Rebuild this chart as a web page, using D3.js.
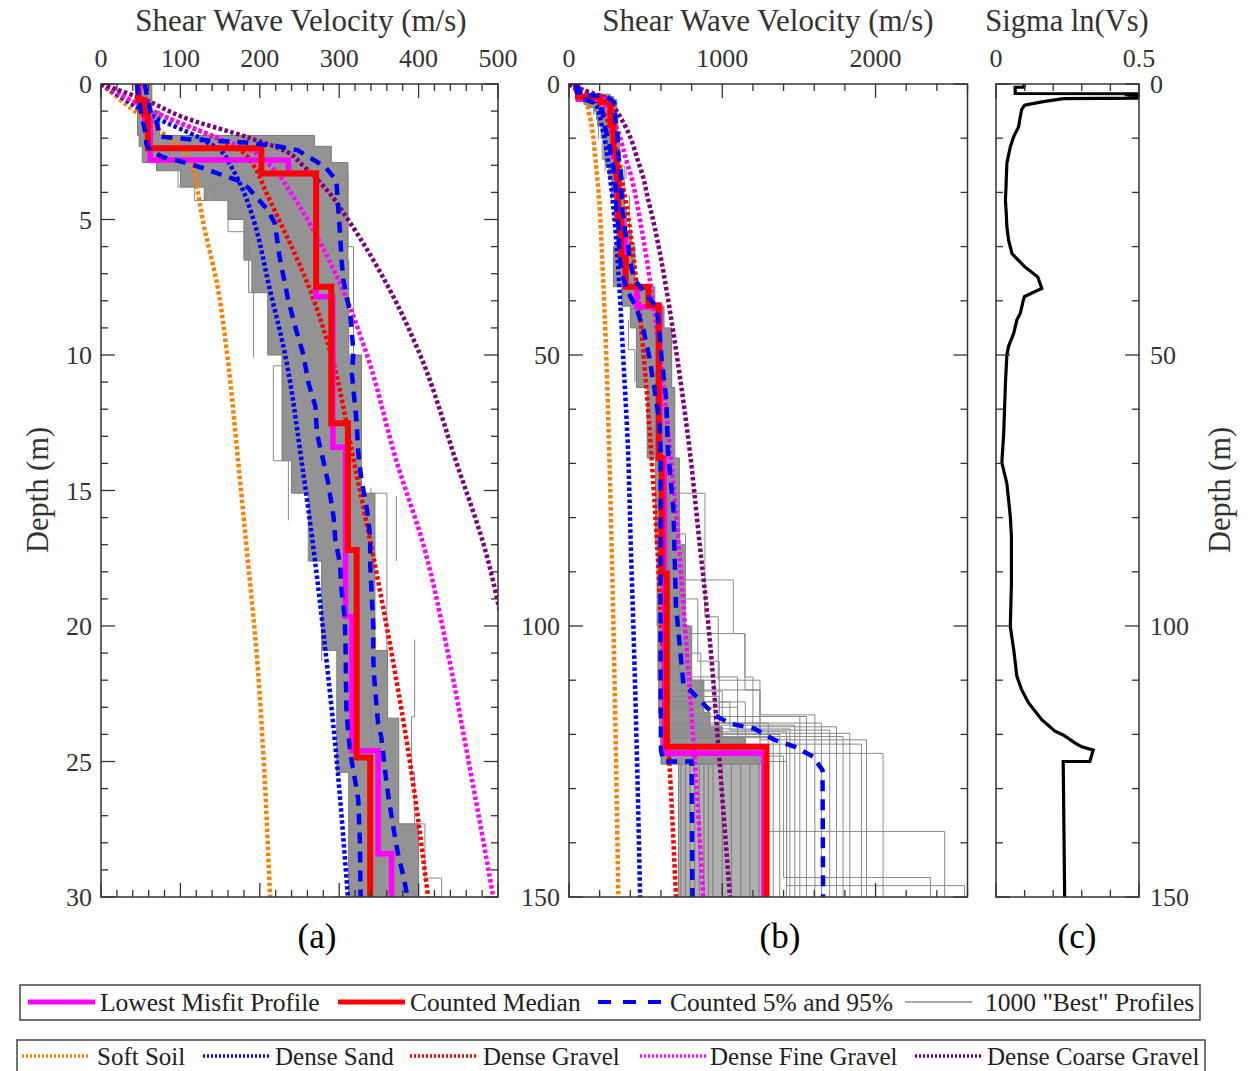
<!DOCTYPE html>
<html><head><meta charset="utf-8">
<script src="https://cdn.jsdelivr.net/npm/d3@7"></script>
<style>
body{margin:0;background:#fff}
svg{display:block}
text{font-family:"Liberation Serif","Times New Roman",serif}
</style></head>
<body><svg id="chart" width="1248" height="1071"></svg>
<script>
// ---------------- DATA ----------------
// generic (reference) Vs profiles: depth (m) and Vs (m/s)
const genDepth     = [0, 0.6, 1.2, 2, 2.5, 3, 4, 5, 7.5, 10, 14, 17, 21, 25, 30, 40, 50, 67.5, 85, 100, 125, 150];
const softSoil     = [0, 25, 51, 86, 106, 115, 122, 128, 147, 159, 173, 183, 196, 205, 213, 229, 243, 262, 278, 290, 307, 322];
const denseSand    = [0, 32, 66, 125, 152, 163, 180, 192, 212, 232, 253, 267, 283, 297, 311, 334, 353, 385, 403, 420, 444, 464];
const denseGravel  = [0, 37, 80, 146, 178, 192, 208, 224, 262, 290, 319, 340, 366, 389, 412, 453, 487, 535, 575, 602, 655, 698];
const fineGravel   = [0, 38, 80, 148, 192, 213, 239, 260, 303, 335, 373, 406, 437, 463, 494, 547, 593, 659, 716, 757, 821, 876];
const coarseGravel = [0, 57, 101, 188, 234, 254, 287, 311, 362, 402, 448, 482, 514, 548, 585, 648, 703, 787, 853, 910, 982, 1050];

// counted median (layer tops and Vs)
const medianTop = [0, 0.6, 1.1, 2.37, 3.3, 7.48, 12.52, 17.2, 24.85, 32, 37.4, 40.8, 69, 90.3, 122.3];
const medianVs  = [47, 54, 59, 202, 271, 290, 311, 322, 339, 370, 518, 585, 605, 638, 1289];
// lowest misfit profile
const lowestTop = [0, 0.6, 1.3, 2.8, 3.3, 7.85, 13.4, 19.65, 24.6, 28.4, 37.4, 41.1, 69, 123.5];
const lowestVs  = [48, 55, 62, 236, 271, 292, 308, 316, 349, 366, 442, 592, 622, 1272];

// counted 5% and 95% curves
const p05Depth = [0, 1, 1.8, 2.2, 2.45, 2.7, 2.85, 3.1, 3.35, 3.6, 3.85, 4.65, 5.15, 6.4, 8, 9.1, 10, 11, 11.9, 12.9, 13.9, 14.7, 16, 16.8, 17.7, 18.7, 19.7, 20.8, 23, 23.8, 24.7, 25.7, 26.4, 27.9, 30, 34.3, 38, 41.1, 45.4, 50.6, 56.1, 62.3, 68, 86, 104.4, 122.9, 125, 125, 150];
const p05Vs    = [45, 50, 56, 57, 62, 78, 100, 128, 152, 176, 186, 210, 219, 225, 236, 246, 255, 261, 270, 272, 280, 286, 293, 295, 301, 303, 307, 308, 309, 311, 314, 320, 324, 326, 327, 340, 377, 438, 486, 525, 557, 590, 598, 598, 598, 600, 616, 800, 805];
const p95Depth = [0, 0.3, 1, 1.4, 1.94, 2.04, 2.16, 2.3, 2.45, 2.68, 3.05, 3.54, 3.8, 4.65, 5.5, 6.5, 7.2, 8.5, 9.9, 10.7, 12.5, 13.6, 14.6, 15.7, 16.7, 17.7, 18.9, 20, 21.25, 21.9, 23.6, 24.1, 25.4, 26.3, 27.4, 28.4, 29.25, 30, 33, 36, 39, 41, 43.5, 50.9, 58.3, 67.5, 78.3, 96.4, 110.6, 113.7, 116.4, 118.1, 118.9, 120.9, 122.3, 124.1, 126.6, 150];
const p95Vs    = [55, 57, 62, 70, 74, 111, 183, 223, 248, 261, 282, 296, 297, 299, 301, 303, 305, 314, 318, 316, 322, 324, 328, 335, 339, 339, 341, 343, 343, 344, 349, 353, 358, 362, 368, 374, 381, 386, 400, 425, 510, 565, 583, 605, 635, 645, 681, 698, 746, 855, 946, 1061, 1207, 1333, 1474, 1593, 1654, 1658];

// dense part of the 1000 "best" profiles (left / right edge per layer)
const coreTop = [0, 1.0, 1.9, 2.3, 2.9, 3.2, 3.8, 4.3, 5.0, 6.5, 7.7, 10.0, 13.9, 15.1, 17.6, 20.9, 23.4, 25.4, 27.3, 30, 37.4, 41, 45, 56, 69, 85, 100, 110, 116, 118.6, 120.5, 122.3];
const coreLo  = [44, 46, 48, 52, 70, 100, 130, 160, 180, 190, 210, 228, 240, 262, 278, 297, 297, 312, 312, 290, 345, 400, 440, 510, 565, 575, 580, 585, 590, 595, 598, 600];
const coreHi  = [64, 74, 269, 290, 311, 311, 311, 311, 311, 312, 312, 328, 328, 345, 345, 361, 375, 375, 400, 430, 560, 620, 670, 690, 720, 760, 800, 880, 920, 1000, 1150, 1290];
const coreBottom = 125.5;
// half-space band of the best profiles
const halfBandTop = 125.5, halfBandLo = 714, halfBandHi = 1290;
const halfBandLines = [730, 760, 790, 820, 850, 880, 910, 940, 1000, 1060, 1120, 1180, 1240, 1270];

// individual outlying profiles (layer tops, Vs, bottom)
const grayFragments = [
  {t:[2.8, 3.8], v:[97, 143], b:4.3},
  {t:[3.05, 4.3, 5.45], v:[118, 160, 186], b:7.7},
  {t:[6.0, 7.7], v:[186, 192], b:10.1},
  {t:[9.8, 10.4, 13.9], v:[228, 217, 236], b:16.1},
  {t:[14.9, 17.6], v:[261, 278], b:21.3},
  {t:[5.0, 6.0], v:[305, 318], b:10.1},
  {t:[3.2], v:[311], b:6.0},
  {t:[14.9, 15.1], v:[340, 360], b:20.9},
  {t:[15.2], v:[372], b:17.6},
  {t:[20.5, 23.35], v:[395, 391], b:25.4},
  {t:[22, 25.4], v:[340, 370], b:29},
  {t:[25.4, 27.3, 29.3], v:[395, 408, 429], b:30.5},
  {t:[43.5, 49], v:[388, 430], b:55}
];
const deepProfiles = [
  {t:[60, 75.5, 98.3, 110, 121], v:[620, 887, 974, 1246, 1941]},
  {t:[60, 91.5, 101.4, 111.8, 116.4], v:[630, 1072, 1148, 1246, 1604]},
  {t:[60, 83, 101.4, 109.4, 118.6], v:[610, 760, 1148, 1200, 1745]},
  {t:[60, 95, 106.5, 119.8], v:[640, 840, 980, 1832]},
  {t:[60, 100, 111.8, 123.5], v:[630, 800, 1246, 2049]},
  {t:[60, 90, 109.4, 125, 137.9], v:[620, 720, 1100, 1289, 2451]},
  {t:[60, 105, 114, 124, 146.4], v:[640, 860, 1150, 1400, 2358]},
  {t:[60, 110, 117.9, 125, 147.9], v:[650, 950, 1300, 1420, 2581]},
  {t:[70, 112, 116.7], v:[660, 1000, 1549]},
  {t:[70, 114, 119.2], v:[650, 1050, 1701]},
  {t:[70, 113, 120.4], v:[640, 980, 1788]},
  {t:[70, 115, 121.8], v:[660, 1100, 1908]},
  {t:[70, 117.9], v:[650, 1647]},
  {t:[70, 116.7], v:[640, 1506]},
  {t:[70, 118.3], v:[650, 1473]},
  {t:[70, 119], v:[640, 1441]},
  {t:[70, 119.5], v:[640, 1419]},
  {t:[70, 120], v:[650, 1375]},
  {t:[70, 120.6], v:[640, 1332]}
];
const profileBottom = 150;

// sigma ln(Vs)
const sigmaDepth = [0, 0.6, 0.6, 1.75, 1.8, 1.95, 2.05, 2.2, 2.35, 2.5, 2.6, 2.7, 3.3, 3.9, 4.7, 6, 7.9, 9.7, 11.6, 14.6, 19, 21.4, 24, 26.3, 28.8, 31.3, 33.7, 35.6, 37.7, 39.2, 39.8, 42.3, 43.5, 46, 48.4, 50, 55.2, 64.4, 69.4, 70, 73.7, 79.8, 83.5, 92.1, 100.1, 104.4, 109.3, 111.8, 114.2, 117.3, 119.4, 120.1, 121.6, 122.3, 122.9, 125, 125, 150];
const sigmaVal   = [0.098, 0.098, 0.067, 0.067, 0.52, 0.45, 0.52, 0.46, 0.52, 0.47, 0.52, 0.235, 0.16, 0.1, 0.09, 0.085, 0.079, 0.062, 0.05, 0.038, 0.035, 0.033, 0.036, 0.038, 0.044, 0.056, 0.1, 0.146, 0.16, 0.1, 0.096, 0.085, 0.073, 0.062, 0.044, 0.038, 0.033, 0.027, 0.021, 0.021, 0.038, 0.05, 0.054, 0.054, 0.05, 0.062, 0.073, 0.09, 0.114, 0.16, 0.206, 0.235, 0.277, 0.3, 0.34, 0.328, 0.235, 0.24];

// tick labels
const aXLabels = [0, 100, 200, 300, 400, 500];
const aYLabels = [0, 5, 10, 15, 20, 25, 30];
const bXLabels = [0, 1000, 2000];
const bYLabels = [0, 50, 100, 150];
const cXLabels = [0, 0.5];
const cYLabels = [0, 50, 100, 150];

// legend entries
const legend1 = ["Lowest Misfit Profile", "Counted Median", "Counted 5% and 95%", "1000 \"Best\" Profiles"];
const legend2 = ["Soft Soil", "Dense Sand", "Dense Gravel", "Dense Fine Gravel", "Dense Coarse Gravel"];

// ---------------- DRAWING ----------------
const svg = d3.select("#chart");
const defs = svg.append("defs");
const TXT = "#333";
const genericStyles = [
  {data: softSoil, color: "#ff8000"},
  {data: denseSand, color: "#0000ff"},
  {data: denseGravel, color: "#ff0000"},
  {data: fineGravel, color: "#ff00ff"},
  {data: coarseGravel, color: "#7f007f"}
];

const panels = {
  a: {x: d3.scaleLinear().domain([0, 500]).range([101, 498]),
      y: d3.scaleLinear().domain([0, 30]).range([84, 897]),
      xMinor: 20, xMajor: 100, yMinor: 1, yMajor: 5},
  b: {x: d3.scaleLinear().domain([0, 2600]).range([569, 967.5]),
      y: d3.scaleLinear().domain([0, 150]).range([84, 897]),
      xMinor: 200, xMajor: 1000, yMinor: 10, yMajor: 50},
  c: {x: d3.scaleLinear().domain([0, 0.5]).range([996, 1139]),
      y: d3.scaleLinear().domain([0, 150]).range([84, 897]),
      xMinor: 0.1, xMajor: 0.5, yMinor: 10, yMajor: 50}
};

function stepPts(tops, vals, bottom) {
  const pts = [];
  tops.forEach((t, i) => {
    const b = i < tops.length - 1 ? tops[i + 1] : bottom;
    pts.push([vals[i], t]);
    pts.push([vals[i], b]);
  });
  return pts;
}

function setupClip(key) {
  const P = panels[key];
  defs.append("clipPath").attr("id", "clip-" + key)
    .append("rect")
    .attr("x", P.x.range()[0]).attr("y", P.y.range()[0])
    .attr("width", P.x.range()[1] - P.x.range()[0])
    .attr("height", P.y.range()[1] - P.y.range()[0]);
}

function drawVs(key) {
  const P = panels[key];
  setupClip(key);
  const g = svg.append("g").attr("clip-path", "url(#clip-" + key + ")");
  const line = d3.line().x(p => P.x(p[0])).y(p => P.y(p[1]));

  // dense core of gray profiles
  const left = stepPts(coreTop, coreLo, coreBottom);
  const right = stepPts(coreTop, coreHi, coreBottom).reverse();
  g.append("path").attr("d", line(left.concat(right)) + "Z")
    .attr("fill", "#939393").attr("stroke", "#7a7a7a").attr("stroke-width", 1);
  // half-space band
  const hb = [[halfBandLo, halfBandTop], [halfBandHi, halfBandTop], [halfBandHi, profileBottom], [halfBandLo, profileBottom]];
  g.append("path").attr("d", line(hb) + "Z").attr("fill", "#b0b0b0").attr("stroke", "#808080");
  halfBandLines.forEach(v => {
    g.append("path").attr("d", line([[v, halfBandTop], [v, profileBottom]]))
      .attr("fill", "none").attr("stroke", "#848484").attr("stroke-width", 1.2);
  });
  // outlying profiles
  grayFragments.forEach(f => {
    g.append("path").attr("d", line(stepPts(f.t, f.v, f.b)))
      .attr("fill", "none").attr("stroke", "#8a8a8a").attr("stroke-width", 1);
  });
  deepProfiles.forEach(f => {
    g.append("path").attr("d", line(stepPts(f.t, f.v, profileBottom)))
      .attr("fill", "none").attr("stroke", "#8a8a8a").attr("stroke-width", 1);
  });

  // generic profiles (dotted)
  genericStyles.forEach(s => {
    const pts = genDepth.map((d, i) => [s.data[i], d]);
    g.append("path").attr("d", d3.line().x(p => P.x(p[0])).y(p => P.y(p[1])).curve(d3.curveMonotoneY)(pts))
      .attr("fill", "none").attr("stroke", s.color).attr("stroke-width", 4.5)
      .attr("stroke-dasharray", "3.5,2.5");
  });

  // lowest misfit & median
  g.append("path").attr("d", line(stepPts(lowestTop, lowestVs, profileBottom)))
    .attr("fill", "none").attr("stroke", "#ff00ff").attr("stroke-width", 5.5);
  g.append("path").attr("d", line(stepPts(medianTop, medianVs, profileBottom)))
    .attr("fill", "none").attr("stroke", "#ff0000").attr("stroke-width", 6);

  // 5% and 95%
  [[p05Depth, p05Vs], [p95Depth, p95Vs]].forEach(([dd, vv]) => {
    const pts = dd.map((d, i) => [vv[i], d]);
    g.append("path").attr("d", line(pts))
      .attr("fill", "none").attr("stroke", "#0000ff").attr("stroke-width", 4.5)
      .attr("stroke-dasharray", "11,8");
  });
}

function drawSigma() {
  const P = panels.c;
  setupClip("c");
  const g = svg.append("g").attr("clip-path", "url(#clip-c)");
  const pts = sigmaDepth.map((d, i) => [sigmaVal[i], d]);
  g.append("path").attr("d", d3.line().x(p => P.x(p[0])).y(p => P.y(p[1]))(pts))
    .attr("fill", "none").attr("stroke", "#000").attr("stroke-width", 3.2)
    .attr("stroke-linejoin", "miter");
}

function drawFrame(key, xLabels, yLabels, yLabelSide) {
  const P = panels[key];
  const [x0, x1] = P.x.range(), [y0, y1] = P.y.range();
  const g = svg.append("g");
  const xd = P.x.domain(), yd = P.y.domain();
  const eps = 1e-9;
  const xt = d3.range(xd[0], xd[1] + eps, P.xMinor);
  const yt = d3.range(yd[0], yd[1] + eps, P.yMinor);
  const isMaj = (v, m) => Math.abs(v / m - Math.round(v / m)) < 1e-6;
  xt.forEach(v => {
    const x = P.x(v), L = isMaj(v, P.xMajor) ? 14 : 7;
    g.append("line").attr("x1", x).attr("x2", x).attr("y1", y0).attr("y2", y0 + L).attr("stroke", "#333").attr("stroke-width", 1.3);
    g.append("line").attr("x1", x).attr("x2", x).attr("y1", y1).attr("y2", y1 - L).attr("stroke", "#333").attr("stroke-width", 1.3);
  });
  yt.forEach(v => {
    const y = P.y(v), L = isMaj(v, P.yMajor) ? 14 : 7;
    g.append("line").attr("x1", x0).attr("x2", x0 + L).attr("y1", y).attr("y2", y).attr("stroke", "#333").attr("stroke-width", 1.3);
    g.append("line").attr("x1", x1).attr("x2", x1 - L).attr("y1", y).attr("y2", y).attr("stroke", "#333").attr("stroke-width", 1.3);
  });
  g.append("rect").attr("x", x0).attr("y", y0).attr("width", x1 - x0).attr("height", y1 - y0)
    .attr("fill", "none").attr("stroke", "#333").attr("stroke-width", 1.5);
  xLabels.forEach(v => {
    g.append("text").attr("x", P.x(v)).attr("y", 67).attr("text-anchor", "middle")
      .attr("font-size", 26).attr("fill", TXT).text(v);
  });
  yLabels.forEach(v => {
    const t = g.append("text").attr("y", P.y(v)).attr("dy", "0.35em")
      .attr("font-size", 26).attr("fill", TXT).text(v);
    if (yLabelSide === "left") t.attr("x", x0 - 9).attr("text-anchor", "end");
    else t.attr("x", x1 + 11).attr("text-anchor", "start");
  });
}

drawVs("a");
drawVs("b");
drawSigma();
drawFrame("a", aXLabels, aYLabels, "left");
drawFrame("b", bXLabels, bYLabels, "left");
drawFrame("c", cXLabels, cYLabels, "right");

// titles
function title(txt, x, y, size, rot, color) {
  const t = svg.append("text").attr("x", x).attr("y", y).attr("text-anchor", "middle")
    .attr("font-size", size).attr("fill", color || TXT).text(txt);
  if (rot) t.attr("transform", `rotate(-90 ${x} ${y})`);
  return t;
}
title("Shear Wave Velocity (m/s)", 301, 31, 31);
title("Shear Wave Velocity (m/s)", 768, 31, 31);
title("Sigma ln(Vs)", 1067, 31, 30.5);
title("Depth (m)", 48, 490, 30.5, true);
title("Depth (m)", 1230, 490, 30.5, true);
title("(a)", 317, 948, 35, false, "#000");
title("(b)", 780, 948, 35, false, "#000");
title("(c)", 1077, 948, 35, false, "#000");

// legends
const lg = svg.append("g");
lg.append("rect").attr("x", 20).attr("y", 985).attr("width", 1180).attr("height", 35)
  .attr("fill", "#fff").attr("stroke", "#444").attr("stroke-width", 1.5);
lg.append("rect").attr("x", 17).attr("y", 1040).attr("width", 1188).attr("height", 40)
  .attr("fill", "#fff").attr("stroke", "#444").attr("stroke-width", 1.5);

const leg1Items = [
  {x: 28, tx: 100, stroke: "#ff00ff", w: 5, dash: null},
  {x: 338, tx: 410, stroke: "#ff0000", w: 5, dash: null},
  {x: 598, tx: 670, stroke: "#0000ff", w: 4, dash: "13,12"},
  {x: 905, tx: 985, stroke: "#555", w: 1.2, dash: null}
];
leg1Items.forEach((it, i) => {
  lg.append("line").attr("x1", it.x).attr("x2", it.x + 67).attr("y1", 1002).attr("y2", 1002)
    .attr("stroke", it.stroke).attr("stroke-width", it.w).attr("stroke-dasharray", it.dash);
  lg.append("text").attr("x", it.tx).attr("y", 1011).attr("font-size", 25.5).attr("fill", "#222").text(legend1[i]);
});
const leg2X = [[22, 97], [203, 275], [410, 483], [640, 710], [915, 987]];
genericStyles.forEach((s, i) => {
  lg.append("line").attr("x1", leg2X[i][0]).attr("x2", leg2X[i][0] + 68).attr("y1", 1056).attr("y2", 1056)
    .attr("stroke", s.color).attr("stroke-width", 3.5).attr("stroke-dasharray", "2,2");
  lg.append("text").attr("x", leg2X[i][1]).attr("y", 1065).attr("font-size", 25).attr("fill", "#222").text(legend2[i]);
});
</script></body></html>
